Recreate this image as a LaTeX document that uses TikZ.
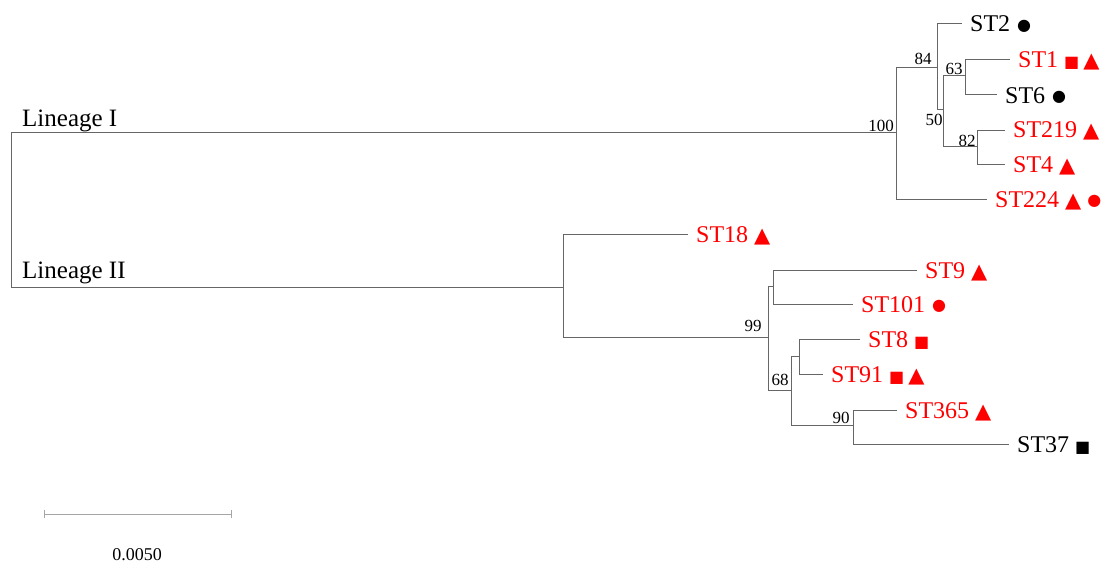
\documentclass[tikz,border=0pt]{standalone}
\usepackage{fontspec}
\setmainfont{Liberation Serif}
\newfontfamily\symfont{DejaVu Sans}
\newcommand\mytri{{\symfont\fontsize{21}{21}\selectfont ▲}}
\newcommand\mysq{{\symfont\fontsize{16}{16}\selectfont ■}}
\newcommand\mycir{\raisebox{1.5pt}{\symfont\fontsize{16}{16}\selectfont ●}}
\tikzset{
  branch/.style={draw=black!60, line width=1pt},
  leaf/.style={anchor=west, inner xsep=8pt, inner ysep=0pt, text height=16pt, text depth=0pt,
    font=\fontsize{24}{24}\selectfont},
  redleaf/.style={leaf, text=red},
  blackleaf/.style={leaf, text=black},
  boot/.style={inner sep=0pt, font=\fontsize{17}{17}\selectfont},
  lineage/.style={anchor=base west, inner sep=0pt, font=\fontsize{25}{25}\selectfont},
}
\begin{document}
\begin{tikzpicture}[x=1pt, y=-1pt]
\useasboundingbox[fill=white] (0,0) rectangle (1110,567);
% internal nodes
\coordinate (root) at (11,210);
\coordinate (n100) at (896,132);
\coordinate (n84) at (937,68);
\coordinate (n50) at (943,110);
\coordinate (n63) at (965,76);
\coordinate (n82) at (977,146);
\coordinate (nII) at (563,287);
\coordinate (n99) at (768,337);
\coordinate (nA) at (773,286);
\coordinate (n68) at (791,390);
\coordinate (nB) at (799,356);
\coordinate (n90) at (853,425);
% leaves
\node[blackleaf] (st2) at (962,24) {ST2\hspace{7pt}\mycir};
\node[redleaf] (st1) at (1010,60) {ST1\hspace{6pt}\mysq\hspace{4pt}\mytri};
\node[blackleaf] (st6) at (997,95) {ST6\hspace{7pt}\mycir};
\node[redleaf] (st219) at (1005,130) {ST219\hspace{6pt}\mytri};
\node[redleaf] (st4) at (1005,164) {ST4\hspace{6pt}\mytri};
\node[redleaf] (st224) at (987,199) {ST224\hspace{6pt}\mytri\hspace{6pt}\mycir};
\node[redleaf] (st18) at (688,234) {ST18\hspace{6pt}\mytri};
\node[redleaf] (st9) at (917,270) {ST9\hspace{6pt}\mytri};
\node[redleaf] (st101) at (853,304) {ST101\hspace{7pt}\mycir};
\node[redleaf] (st8) at (860,339) {ST8\hspace{6pt}\mysq};
\node[redleaf] (st91) at (823,374) {ST91\hspace{6pt}\mysq\hspace{4pt}\mytri};
\node[redleaf] (st365) at (897,410) {ST365\hspace{6pt}\mytri};
\node[blackleaf] (st37) at (1009,444) {ST37\hspace{6pt}\mysq};
% branches
\draw[branch] (root) |- (n100);
\draw[branch] (root) |- (nII);
\draw[branch] (n100) |- (n84);
\draw[branch] (n100) |- (st224.west);
\draw[branch] (n84) |- (st2.west);
\draw[branch] (n84) |- (n50);
\draw[branch] (n50) |- (n63);
\draw[branch] (n50) |- (n82);
\draw[branch] (n63) |- (st1.west);
\draw[branch] (n63) |- (st6.west);
\draw[branch] (n82) |- (st219.west);
\draw[branch] (n82) |- (st4.west);
\draw[branch] (nII) |- (st18.west);
\draw[branch] (nII) |- (n99);
\draw[branch] (n99) |- (nA);
\draw[branch] (n99) |- (n68);
\draw[branch] (nA) |- (st9.west);
\draw[branch] (nA) |- (st101.west);
\draw[branch] (n68) |- (nB);
\draw[branch] (n68) |- (n90);
\draw[branch] (nB) |- (st8.west);
\draw[branch] (nB) |- (st91.west);
\draw[branch] (n90) |- (st365.west);
\draw[branch] (n90) |- (st37.west);
% bootstrap values
\node[boot] (b100) at (881,126) {100};
\node[boot] (b84) at (923,59) {84};
\node[boot] (b63) at (954,69) {63};
\node[boot] (b50) at (934,120) {50};
\node[boot] (b82) at (967,141) {82};
\node[boot] (b99) at (753,326) {99};
\node[boot] (b68) at (780,380) {68};
\node[boot] (b90) at (841,418) {90};
% lineage labels
\node[lineage] (l1) at (22,127) {Lineage I};
\node[lineage] (l2) at (22,278) {Lineage II};
% scale bar
\coordinate (sbL) at (44,514);
\coordinate (sbR) at (231,514);
\draw[branch, draw=black!35] (sbL) -- (sbR);
\draw[branch, draw=black!35] ([yshift=-4pt]sbL) -- ([yshift=4pt]sbL);
\draw[branch, draw=black!35] ([yshift=-4pt]sbR) -- ([yshift=4pt]sbR);
\node[boot, font=\fontsize{18}{18}\selectfont] (scale) at (137,555) {0.0050};
\end{tikzpicture}
\end{document}
